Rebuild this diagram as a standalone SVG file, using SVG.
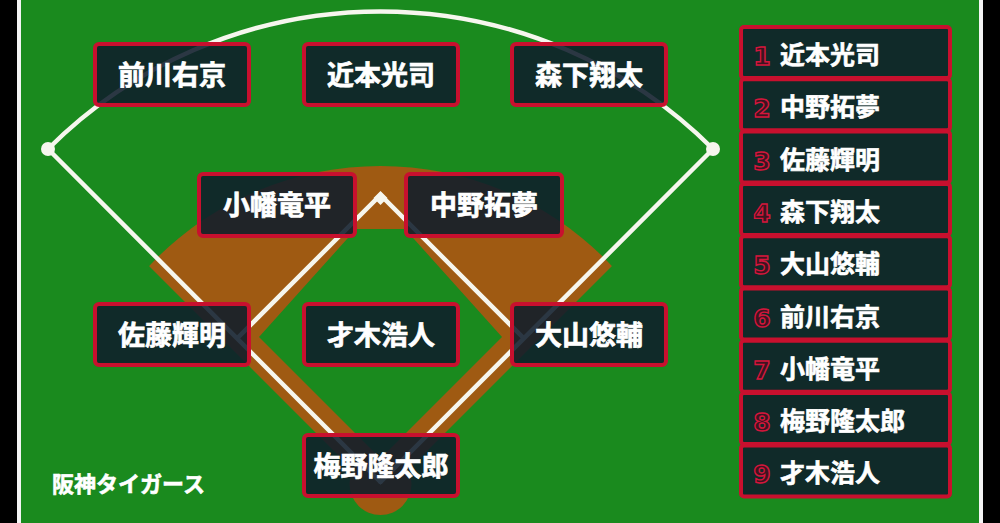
<svg xmlns="http://www.w3.org/2000/svg" width="1000" height="523" viewBox="0 0 1000 523">
<style>
.line{fill:none;stroke:#f6f6ee;stroke-width:4.5;stroke-linecap:round}
.box{fill:#0f1c2b;fill-opacity:0.88;stroke:#c8102e;stroke-width:4}
.name{font-family:"Noto Sans CJK JP","Noto Sans CJK SC",sans-serif;font-weight:700;font-size:27px;fill:#ffffff;stroke:#ffffff;stroke-width:0.7;text-anchor:middle}
.lname{font-family:"Noto Sans CJK JP","Noto Sans CJK SC",sans-serif;font-weight:700;font-size:25px;fill:#ffffff;stroke:#ffffff;stroke-width:0.6}
.num{font-family:"DejaVu Sans",sans-serif;font-weight:700;font-size:25px;fill:#3e1420;stroke:#d4163c;stroke-width:1.4;text-anchor:middle}
.team{font-family:"Noto Sans CJK JP","Noto Sans CJK SC",sans-serif;font-weight:700;font-size:22px;fill:#ffffff;stroke:#ffffff;stroke-width:0.6}
</style>
<defs>
<clipPath id="wedge"><polygon points="380.5,497.5 80,197 380.5,-103.5 681,197"/></clipPath>
</defs>
<rect x="0" y="0" width="1000" height="523" fill="#000"/>
<rect x="17" y="0" width="966" height="523" fill="#f4f4f4"/>
<rect x="21" y="0" width="958" height="523" fill="#1a8a1e"/>
<g id="field">
<circle cx="380.5" cy="484" r="318" fill="#9f5a12" clip-path="url(#wedge)"/>
<circle cx="380.5" cy="484" r="31" fill="#9f5a12"/>
<polygon points="356,229 405,229 502,337 380.5,458.5 259,337" fill="#1a8a1e"/>
</g>
<g id="connectors">
<path class="line" d="M48,149 A470.6,470.6 0 0 1 713,149"/>
<line class="line" x1="48" y1="149" x2="380.5" y2="482"/>
<line class="line" x1="713" y1="149" x2="380.5" y2="482"/>
<polyline class="line" points="237.5,338 380.5,195 523.5,338" stroke-linejoin="miter" stroke-linecap="butt"/>
<polygon points="380.5,191 387.5,198 380.5,205 373.5,198" fill="#f6f6ee"/>
<circle cx="48" cy="149" r="7" fill="#f6f6ee"/>
<circle cx="713" cy="149" r="7" fill="#f6f6ee"/>
</g>
<g id="lf"><rect class="box" x="95" y="44" width="154" height="61" rx="4"/><text class="name" x="172" y="84.5">前川右京</text></g>
<g id="cf"><rect class="box" x="304" y="44" width="154" height="61" rx="4"/><text class="name" x="381" y="84.5">近本光司</text></g>
<g id="rf"><rect class="box" x="512" y="44" width="154" height="61" rx="4"/><text class="name" x="589" y="84.5">森下翔太</text></g>
<g id="ss"><rect class="box" x="199" y="174" width="156" height="62" rx="4"/><text class="name" x="277" y="215">小幡竜平</text></g>
<g id="2b"><rect class="box" x="406" y="174" width="156" height="62" rx="4"/><text class="name" x="484" y="215">中野拓夢</text></g>
<g id="3b"><rect class="box" x="95" y="304" width="154" height="61" rx="4"/><text class="name" x="172" y="344.5">佐藤輝明</text></g>
<g id="p"><rect class="box" x="304" y="304" width="154" height="61" rx="4"/><text class="name" x="381" y="344.5">才木浩人</text></g>
<g id="1b"><rect class="box" x="512" y="304" width="154" height="61" rx="4"/><text class="name" x="589" y="344.5">大山悠輔</text></g>
<g id="c"><rect class="box" x="304" y="435" width="154" height="61" rx="4"/><text class="name" x="381" y="475.5">梅野隆太郎</text></g>
<g id="lineup">
<g id="bat1"><rect class="box" x="741" y="27" width="209" height="51" rx="3"/><text class="num" x="762" y="65">1</text><text class="lname" x="780" y="64">近本光司</text></g>
<g id="bat2"><rect class="box" x="741" y="79.3" width="209" height="51" rx="3"/><text class="num" x="762" y="117.3">2</text><text class="lname" x="780" y="116.3">中野拓夢</text></g>
<g id="bat3"><rect class="box" x="741" y="131.6" width="209" height="51" rx="3"/><text class="num" x="762" y="169.6">3</text><text class="lname" x="780" y="168.6">佐藤輝明</text></g>
<g id="bat4"><rect class="box" x="741" y="183.9" width="209" height="51" rx="3"/><text class="num" x="762" y="221.9">4</text><text class="lname" x="780" y="220.9">森下翔太</text></g>
<g id="bat5"><rect class="box" x="741" y="236.2" width="209" height="51" rx="3"/><text class="num" x="762" y="274.2">5</text><text class="lname" x="780" y="273.2">大山悠輔</text></g>
<g id="bat6"><rect class="box" x="741" y="288.5" width="209" height="51" rx="3"/><text class="num" x="762" y="326.5">6</text><text class="lname" x="780" y="325.5">前川右京</text></g>
<g id="bat7"><rect class="box" x="741" y="340.8" width="209" height="51" rx="3"/><text class="num" x="762" y="378.8">7</text><text class="lname" x="780" y="377.8">小幡竜平</text></g>
<g id="bat8"><rect class="box" x="741" y="393.1" width="209" height="51" rx="3"/><text class="num" x="762" y="431.1">8</text><text class="lname" x="780" y="430.1">梅野隆太郎</text></g>
<g id="bat9"><rect class="box" x="741" y="445.4" width="209" height="51" rx="3"/><text class="num" x="762" y="483.4">9</text><text class="lname" x="780" y="482.4">才木浩人</text></g>
</g>
<text id="team" class="team" x="52" y="492">阪神タイガース</text>
</svg>
